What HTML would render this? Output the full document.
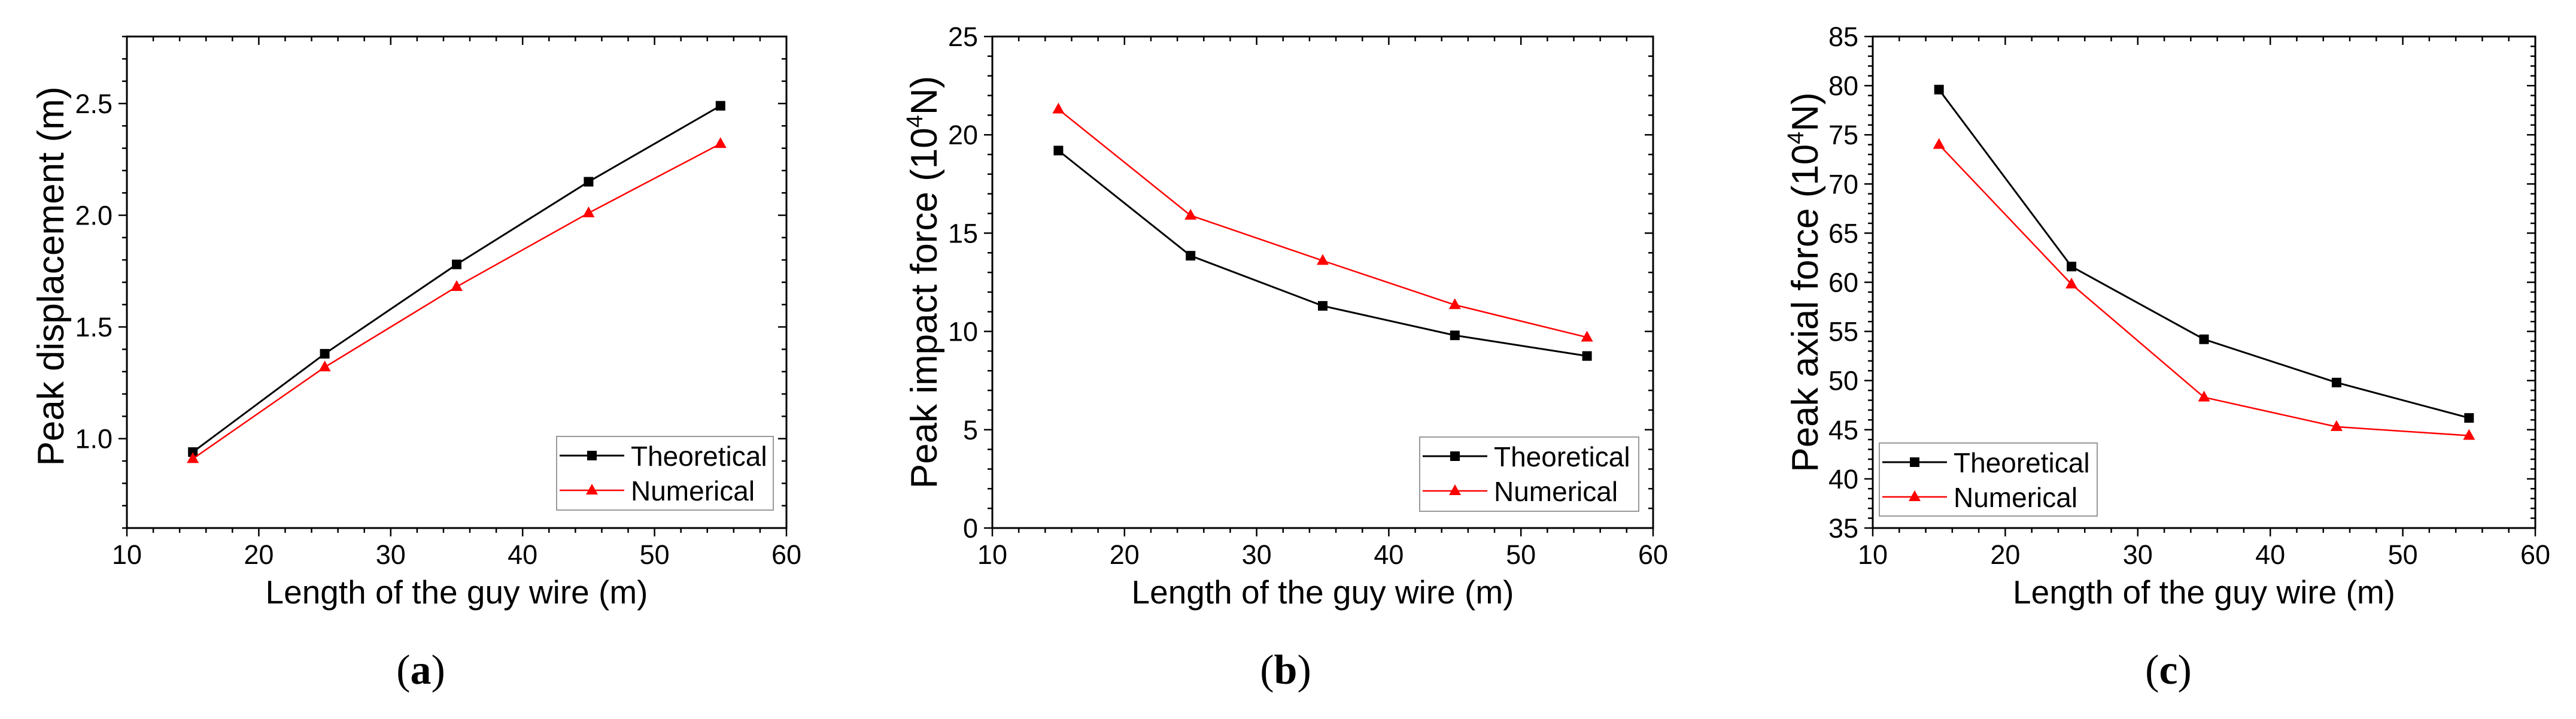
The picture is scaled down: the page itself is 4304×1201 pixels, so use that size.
<!DOCTYPE html>
<html><head><meta charset="utf-8"><style>
html,body{margin:0;padding:0;background:#fff;}
svg{display:block;}
text{font-family:"Liberation Sans",Arial,sans-serif;fill:#000;}
.cap{font-family:"Liberation Serif","Times New Roman",serif;}
</style></head><body>
<svg id="fig" xmlns="http://www.w3.org/2000/svg" width="4304" height="1201" viewBox="0 0 4304 1201"></svg>
<script>
const xValues = [15, 25, 35, 45, 55];
const xTicks = [10, 20, 30, 40, 50, 60];
const dispTheoretical = [0.94, 1.38, 1.78, 2.15, 2.49];
const dispNumerical = [0.91, 1.32, 1.68, 2.01, 2.32];
const dispTicks = ["1.0", "1.5", "2.0", "2.5"];
const impactTheoretical = [19.2, 13.85, 11.3, 9.8, 8.75];
const impactNumerical = [21.3, 15.9, 13.6, 11.35, 9.7];
const impactTicks = ["0", "5", "10", "15", "20", "25"];
const axialTheoretical = [79.6, 61.6, 54.2, 49.8, 46.2];
const axialNumerical = [74.0, 59.8, 48.3, 45.3, 44.4];
const axialTicks = ["35", "40", "45", "50", "55", "60", "65", "70", "75", "80", "85"];

const NS = "http://www.w3.org/2000/svg";
const svg = document.getElementById("fig");
function mk(tag, attrs, parent) {
  const e = document.createElementNS(NS, tag);
  for (const k in attrs) e.setAttribute(k, attrs[k]);
  (parent || svg).appendChild(e);
  return e;
}

const panels = [
  {id:"a", L:212, R:1314, T:61, B:882, ymin:0.6, ymax:2.8, ticks:dispTicks, minorStep:0.1,
   th:dispTheoretical, nu:dispNumerical, ytitle:"Peak displacement (m)", sup:false, ytx:84,
   leg:{x:930,y:729,w:362,h:123}, cap:703},
  {id:"b", L:1658, R:2762, T:61, B:882, ymin:0, ymax:25, ticks:impactTicks, minorStep:1,
   th:impactTheoretical, nu:impactNumerical, ytitle:"Peak impact force (10", sup:true, ytx:1543,
   leg:{x:2372,y:730,w:366,h:124}, cap:2148},
  {id:"c", L:3129, R:4236, T:61, B:882, ymin:35, ymax:85, ticks:axialTicks, minorStep:1,
   th:axialTheoretical, nu:axialNumerical, ytitle:"Peak axial force (10", sup:true, ytx:3015,
   leg:{x:3140,y:740,w:364,h:122}, cap:3623}
];

panels.forEach(p => {
  const g = mk("g", {});
  
  
  const sx = v => p.L + (v - 10) / 50 * (p.R - p.L);
  const sy = v => p.B - (v - p.ymin) / (p.ymax - p.ymin) * (p.B - p.T);

  const fr = mk("rect", {x:p.L, y:p.T, width:p.R-p.L, height:p.B-p.T, fill:"none", stroke:"#000", "stroke-width":3}, g);
  
  

  const xt = mk("g", {}, g);
  
  
  for (let v = 10; v <= 60; v += 2) {
    const major = (v % 10 === 0);
    const len = major ? 14 : 8;
    mk("line", {x1:sx(v), x2:sx(v), y1:p.B, y2:p.B+len, stroke:"#000", "stroke-width":2.5}, xt);
    mk("line", {x1:sx(v), x2:sx(v), y1:p.T, y2:p.T+len, stroke:"#000", "stroke-width":2.5}, xt);
  }
  xTicks.forEach(v => {
    const t = mk("text", {x:sx(v), y:942, "text-anchor":"middle", "font-size":45}, xt);
    t.textContent = v;
    
    
  });
  const xtitle = mk("text", {x:(p.L+p.R)/2, y:1008, "text-anchor":"middle", "font-size":55}, g);
  xtitle.textContent = "Length of the guy wire (m)";
  
  

  const yt = mk("g", {}, g);
  
  
  const majorStep = parseFloat(p.ticks[1]) - parseFloat(p.ticks[0]);
  const n = Math.round((p.ymax - p.ymin) / p.minorStep);
  for (let i = 0; i <= n; i++) {
    const v = p.ymin + i * p.minorStep;
    const r = (v - parseFloat(p.ticks[0])) / majorStep;
    const major = Math.abs(r - Math.round(r)) < 1e-6;
    const len = major ? 14 : 8;
    mk("line", {x1:p.L-len, x2:p.L, y1:sy(v), y2:sy(v), stroke:"#000", "stroke-width":2.5}, yt);
    mk("line", {x1:p.R-len, x2:p.R, y1:sy(v), y2:sy(v), stroke:"#000", "stroke-width":2.5}, yt);
  }
  p.ticks.forEach(s => {
    const t = mk("text", {x:p.L-24, y:sy(parseFloat(s))+16, "text-anchor":"end", "font-size":45}, yt);
    t.textContent = s;
    
    
  });
  const yc = (p.T + p.B) / 2 + (p.id === "a" ? -10 : 0);
  const ytl = mk("text", {x:0, y:0, "text-anchor":"middle", "font-size":62,
    transform:`translate(${p.ytx+22},${yc}) rotate(-90)`}, g);
  
  
  if (p.sup) {
    ytl.appendChild(document.createTextNode(p.ytitle));
    const ts = mk("tspan", {dy:-24, "font-size":38}, ytl);
    ts.textContent = "4";
    const ts2 = mk("tspan", {dy:24}, ytl);
    ts2.textContent = "N)";
  } else {
    ytl.textContent = p.ytitle;
  }

  const drawSeries = (vals, color, marker, name) => {
    const sg = mk("g", {}, g);
    
    
    const pts = vals.map((v, i) => sx(xValues[i]) + "," + sy(v)).join(" ");
    mk("polyline", {points:pts, fill:"none", stroke:color, "stroke-width":color === "#000" ? 3 : 2.5}, sg);
    vals.forEach((v, i) => {
      const cx = sx(xValues[i]), cy = sy(v);
      let m;
      if (marker === "sq") m = mk("rect", {x:cx-8, y:cy-8, width:16, height:16, fill:color}, sg);
      else m = mk("polygon", {points:`${cx},${cy-11} ${cx-10},${cy+7} ${cx+10},${cy+7}`, fill:color}, sg);
      
      
    });
  };
  drawSeries(p.th, "#000", "sq", "theoretical-series");
  drawSeries(p.nu, "#ff0000", "tri", "numerical-series");

  const lg = mk("g", {}, g);
  
  
  const L = p.leg;
  mk("rect", {x:L.x, y:L.y, width:L.w, height:L.h, fill:"#fff", stroke:"#999", "stroke-width":2}, lg);
  const r1 = L.y + 32, r2 = L.y + 90;
  mk("line", {x1:L.x+5, x2:L.x+113, y1:r1, y2:r1, stroke:"#000", "stroke-width":3}, lg);
  mk("rect", {x:L.x+51, y:r1-8, width:16, height:16, fill:"#000"}, lg);
  mk("line", {x1:L.x+5, x2:L.x+113, y1:r2, y2:r2, stroke:"#ff0000", "stroke-width":2.5}, lg);
  mk("polygon", {points:`${L.x+59},${r2-11} ${L.x+49},${r2+7} ${L.x+69},${r2+7}`, fill:"#ff0000"}, lg);
  const t1 = mk("text", {x:L.x+124, y:r1+17, "font-size":46}, lg);
  t1.textContent = "Theoretical";
  
  
  const t2 = mk("text", {x:L.x+124, y:r2+17, "font-size":46}, lg);
  t2.textContent = "Numerical";
  
  

  const cap = mk("text", {x:p.cap, y:1142, "text-anchor":"middle", "font-size":70, "class":"cap"}, g);
  
  
  cap.appendChild(document.createTextNode("("));
  const b = mk("tspan", {"font-weight":"bold"}, cap);
  b.textContent = p.id;
  cap.appendChild(document.createTextNode(")"));
});
</script>
</body></html>
